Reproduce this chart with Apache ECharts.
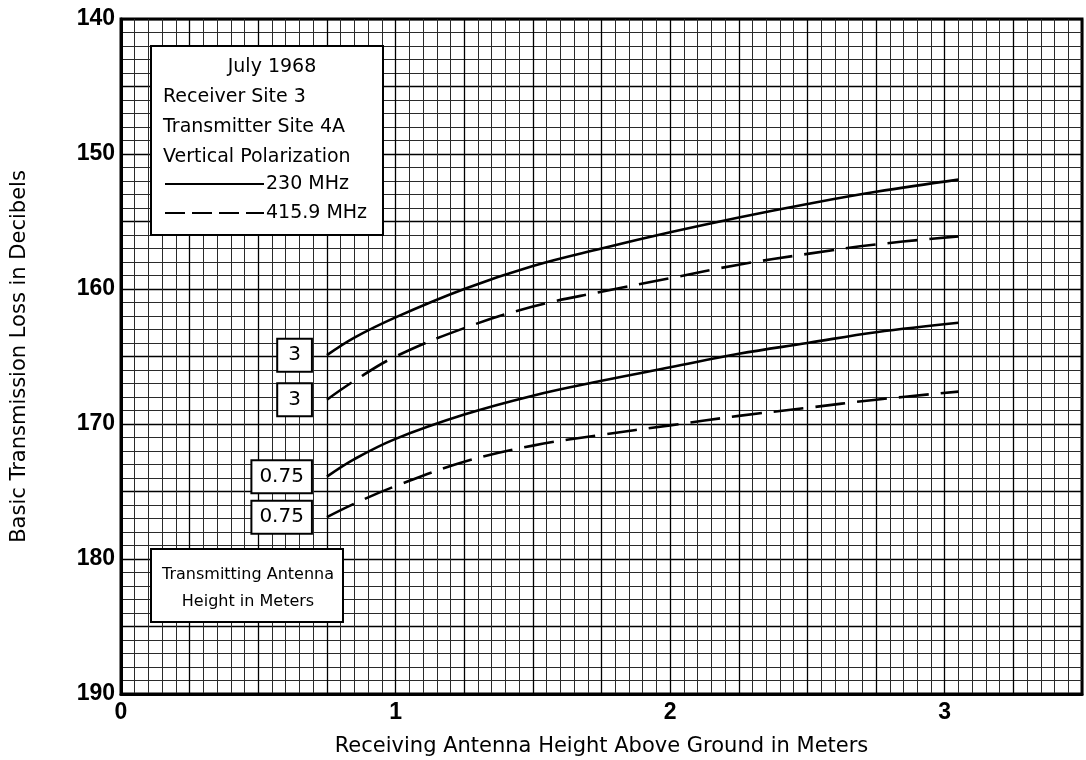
<!DOCTYPE html>
<html>
<head>
<meta charset="utf-8">
<script src="https://cdn.jsdelivr.net/npm/echarts@6/dist/echarts.min.js"></script>
<style>
html,body{margin:0;padding:0;background:#fff;}
#chart{width:1086px;height:760px;}
</style>
</head>
<body>
<div id="chart"></div>
<script>
// Receiving antenna heights (m)
const heights = [0.75, 0.85, 1.0, 1.25, 1.5, 1.75, 2.0, 2.25, 2.5, 2.75, 3.05];
// Basic transmission loss (dB)
const solid230_h3   = [164.9, 163.6, 162.1, 160.0, 158.3, 157.0, 155.8, 154.7, 153.7, 152.8, 151.9];
const dash415_h3    = [168.2, 166.8, 165.0, 162.9, 161.3, 160.2, 159.2, 158.2, 157.4, 156.7, 156.1];
const solid230_h075 = [173.9, 172.6, 171.1, 169.3, 167.9, 166.8, 165.8, 164.8, 164.0, 163.2, 162.5];
const dash415_h075  = [176.9, 175.9, 174.6, 172.8, 171.6, 170.8, 170.1, 169.4, 168.8, 168.2, 167.6];
const txHeightLabels = ['3', '3', '0.75', '0.75'];
const xTickLabels = [0, 1, 2, 3];
const yTickLabels = [140, 150, 160, 170, 180, 190];
const legendLines = ['July 1968', 'Receiver Site 3', 'Transmitter Site 4A', 'Vertical Polarization'];
const freqLabels = ['230 MHz', '415.9 MHz'];
const boxLines = ['Transmitting Antenna', 'Height in Meters'];

const pair = (xs, ys) => xs.map((x, i) => [x, ys[i]]);
const tickFont = 'Liberation Sans, Arial, sans-serif';
const textFont = 'DejaVu Sans, sans-serif';

function mkSeries(ys, dashed, lab) {
  return {
    type: 'line',
    data: pair(heights, ys),
    smooth: 0.4,
    showSymbol: false,
    symbol: 'none',
    lineStyle: { color: '#000', width: 2.6, type: dashed ? [30, 12] : 'solid' },
    markPoint: {
      symbol: 'circle',
      symbolSize: 0,
      silent: true,
      data: [{ coord: [heights[0], ys[0]], value: lab }],
      label: {
        show: true,
        position: 'left',
        distance: 16,
        formatter: lab,
        color: '#000',
        fontFamily: textFont,
        fontSize: 20,
        backgroundColor: '#fff',
        borderColor: '#000',
        borderWidth: 2,
        padding: lab.length > 1 ? [6, 7, 5, 7] : [6, 10, 5, 10]
      }
    },
    z: 5
  };
}

const chart = echarts.init(document.getElementById('chart'), null, { renderer: 'canvas' });

const legendX = 163;
const lf = '19px ' + textFont;
const graphics = [
  { type: 'rect', z: 50, shape: { x: 151, y: 46, width: 232, height: 189 },
    style: { fill: '#fff', stroke: '#000', lineWidth: 2 } },
  { type: 'text', z: 51, style: { text: legendLines[0], x: 272, y: 67, textAlign: 'center', textVerticalAlign: 'middle', font: lf, fill: '#000' } },
  { type: 'text', z: 51, style: { text: legendLines[1], x: legendX, y: 97, textAlign: 'left', textVerticalAlign: 'middle', font: lf, fill: '#000' } },
  { type: 'text', z: 51, style: { text: legendLines[2], x: legendX, y: 127, textAlign: 'left', textVerticalAlign: 'middle', font: lf, fill: '#000' } },
  { type: 'text', z: 51, style: { text: legendLines[3], x: legendX, y: 157, textAlign: 'left', textVerticalAlign: 'middle', font: lf, fill: '#000' } },
  { type: 'line', z: 51, shape: { x1: 165, y1: 184, x2: 264, y2: 184 }, style: { stroke: '#000', lineWidth: 2 } },
  { type: 'text', z: 51, style: { text: freqLabels[0], x: 266, y: 184, textAlign: 'left', textVerticalAlign: 'middle', font: lf, fill: '#000' } },
  { type: 'line', z: 51, shape: { x1: 165, y1: 213, x2: 264, y2: 213 }, style: { stroke: '#000', lineWidth: 2, lineDash: [20, 7] } },
  { type: 'text', z: 51, style: { text: freqLabels[1], x: 266, y: 213, textAlign: 'left', textVerticalAlign: 'middle', font: lf, fill: '#000' } },
  { type: 'rect', z: 50, shape: { x: 151, y: 549, width: 192, height: 73 },
    style: { fill: '#fff', stroke: '#000', lineWidth: 2 } },
  { type: 'text', z: 51, style: { text: boxLines[0], x: 248, y: 575, textAlign: 'center', textVerticalAlign: 'middle', font: '16px ' + textFont, fill: '#000' } },
  { type: 'text', z: 51, style: { text: boxLines[1], x: 248, y: 602, textAlign: 'center', textVerticalAlign: 'middle', font: '16px ' + textFont, fill: '#000' } }
];

chart.setOption({
  animation: false,
  backgroundColor: '#fff',
  grid: { left: 121, right: 4, top: 19, bottom: 66, show: true, borderColor: '#000', borderWidth: 3, backgroundColor: '#fff', containLabel: false, outerBoundsMode: 'none' },
  xAxis: {
    type: 'value', min: 0, max: 3.5, interval: 0.25,
    name: 'Receiving Antenna Height Above Ground in Meters',
    nameLocation: 'middle', nameGap: 42,
    nameTextStyle: { fontFamily: textFont, fontSize: 21, color: '#000' },
    axisLine: { show: true, lineStyle: { color: '#000', width: 3 } },
    axisTick: { show: false },
    axisLabel: {
      margin: 7, color: '#000', fontFamily: tickFont, fontSize: 23, fontWeight: 'bold',
      formatter: v => (xTickLabels.indexOf(v) >= 0 ? String(v) : ''),
      showMaxLabel: false
    },
    splitLine: { show: true, lineStyle: { color: '#000', width: 1.3 } },
    minorTick: { show: false, splitNumber: 5 },
    minorSplitLine: { show: true, lineStyle: { color: '#2a2a2a', width: 1 } }
  },
  yAxis: {
    type: 'value', min: 140, max: 190, interval: 5, inverse: true,
    name: 'Basic Transmission Loss in Decibels',
    nameLocation: 'middle', nameGap: 91, nameRotate: 90,
    nameTextStyle: { fontFamily: textFont, fontSize: 21, color: '#000' },
    axisLine: { show: true, lineStyle: { color: '#000', width: 3 } },
    axisTick: { show: false },
    axisLabel: {
      margin: 6, color: '#000', fontFamily: tickFont, fontSize: 23, fontWeight: 'bold',
      formatter: v => (yTickLabels.indexOf(v) >= 0 ? String(v) : '')
    },
    splitLine: { show: true, lineStyle: { color: '#000', width: 1.3 } },
    minorTick: { show: false, splitNumber: 5 },
    minorSplitLine: { show: true, lineStyle: { color: '#2a2a2a', width: 1 } }
  },
  series: [
    mkSeries(solid230_h3, false, txHeightLabels[0]),
    mkSeries(dash415_h3, true, txHeightLabels[1]),
    mkSeries(solid230_h075, false, txHeightLabels[2]),
    mkSeries(dash415_h075, true, txHeightLabels[3])
  ],
  graphic: graphics
});
</script>
</body>
</html>
